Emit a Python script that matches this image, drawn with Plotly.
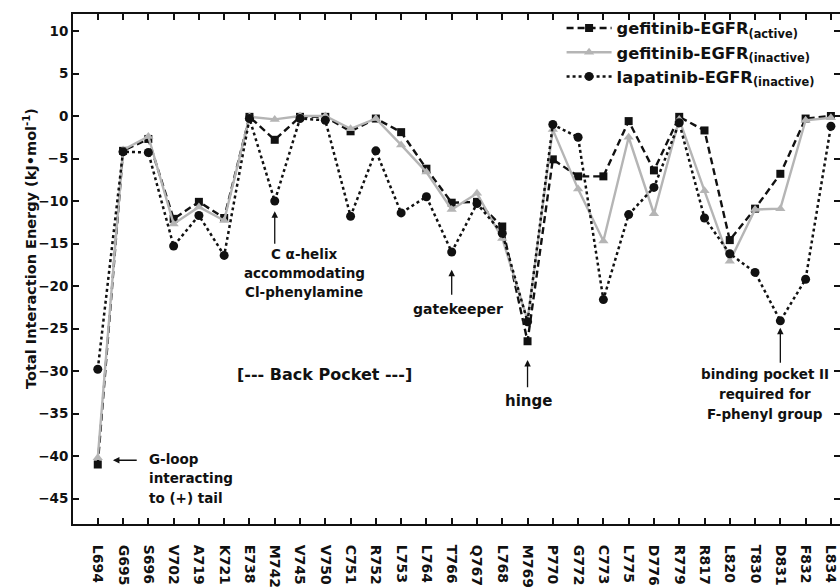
import plotly.graph_objects as go

# Residues along the binding site
residues = ["L694", "G695", "S696", "V702", "A719", "K721", "E738", "M742", "V745", "V750",
            "C751", "R752", "L753", "L764", "T766", "Q767", "L768", "M769", "P770", "G772",
            "C773", "L775", "D776", "R779", "R817", "L820", "T830", "D831", "F832", "L834"]

# Total interaction energy per residue (kJ/mol)
gef_active = [-41.0, -4.1, -2.7, -12.1, -10.1, -12.0, -0.1, -2.8, -0.1, -0.1,
              -1.8, -0.3, -1.9, -6.2, -10.2, -10.1, -13.0, -26.5, -5.1, -7.1,
              -7.1, -0.6, -6.4, -0.1, -1.7, -14.6, -10.9, -6.8, -0.3, 0.0]
gef_inactive = [-40.2, -4.0, -2.4, -12.7, -10.7, -12.3, -0.1, -0.4, 0.0, 0.0,
                -1.5, -0.3, -3.4, -6.6, -11.0, -9.1, -14.4, -24.0, -1.6, -8.6,
                -14.7, -2.5, -11.5, -0.4, -8.8, -17.1, -11.0, -10.9, -0.5, -0.2]
lap_inactive = [-29.8, -4.2, -4.3, -15.3, -11.7, -16.4, -0.3, -10.0, -0.3, -0.5,
                -11.8, -4.1, -11.4, -9.5, -16.0, -10.3, -13.8, -24.2, -1.0, -2.5,
                -21.6, -11.6, -8.4, -0.8, -12.0, -16.2, -18.4, -24.1, -19.2, -1.2]

y_ticks = [10, 5, 0, -5, -10, -15, -20, -25, -30, -35, -40, -45]

FONT = "DejaVu Sans"
INK = "#111111"

fig = go.Figure()
fig.add_trace(go.Scatter(
    x=residues, y=gef_active, mode="lines+markers",
    name="gefitinib-EGFR<sub>(active)</sub>",
    line=dict(color="#111111", width=2.4, dash="7px,4px"),
    marker=dict(symbol="square", size=8, color="#111111"),
))
fig.add_trace(go.Scatter(
    x=residues, y=gef_inactive, mode="lines+markers",
    name="gefitinib-EGFR<sub>(inactive)</sub>",
    line=dict(color="#b5b5b5", width=2.4),
    marker=dict(symbol="triangle-up", size=9, color="#b5b5b5"),
))
fig.add_trace(go.Scatter(
    x=residues, y=lap_inactive, mode="lines+markers",
    name="lapatinib-EGFR<sub>(inactive)</sub>",
    line=dict(color="#111111", width=2.5, dash="3px,3px"),
    marker=dict(symbol="circle", size=9, color="#111111"),
))
# empty trace that puts the mirrored tick axis on the right-hand side
fig.add_trace(go.Scatter(x=[], y=[], yaxis="y2", showlegend=False, hoverinfo="skip"))

bold = dict(family=FONT, color=INK, weight="bold")

annotations = []


def label(text, x, y, size, xanchor="center"):
    annotations.append(dict(x=x, y=y, xref="x", yref="y", text=text, showarrow=False,
                            xanchor=xanchor, yanchor="middle",
                            font=dict(size=size, **bold)))


def arrow(x, y_head, x_tail, y_tail):
    annotations.append(dict(x=x, y=y_head, ax=x_tail, ay=y_tail, xref="x", yref="y",
                            axref="x", ayref="y", text="", showarrow=True,
                            arrowhead=2, arrowsize=1, arrowwidth=1.3, arrowcolor=INK))


# G-loop
arrow(0.6, -40.5, 1.6, -40.5)
label("G-loop", 1.94, -40.4, 13.5, "left")
label("interacting", 1.94, -42.6, 13.5, "left")
label("to (+) tail", 1.94, -44.9, 13.5, "left")

# C alpha-helix
arrow(7, -11.2, 7, -15.2)
label("C α-helix", 8.16, -16.2, 13.5)
label("accommodating", 8.16, -18.5, 13.5)
label("Cl-phenylamine", 8.16, -20.7, 13.5)

# gatekeeper
arrow(14, -18.1, 14, -21.2)
label("gatekeeper", 14.25, -22.75, 14)

# hinge
arrow(17, -28.7, 17, -32.1)
label("hinge", 17.03, -33.5, 15)

# binding pocket II
arrow(27, -24.9, 27, -29.2)
label("binding pocket II", 26.4, -30.3, 13.5)
label("required for", 26.4, -32.65, 13.5)
label("F-phenyl group", 26.4, -35.0, 13.5)

# back pocket region
label("[--- Back Pocket ---]", 8.95, -30.45, 16)

# y-axis title
annotations.append(dict(x=-0.057, y=0.54, xref="paper", yref="paper",
                        text="Total Interaction Energy (kJ•mol<sup>-1</sup>)",
                        showarrow=False, textangle=-90, xanchor="center", yanchor="middle",
                        font=dict(size=14.5, **bold)))

fig.update_layout(
    width=840, height=588,
    margin=dict(l=73, r=0, t=14, b=60),
    paper_bgcolor="white", plot_bgcolor="white",
    showlegend=True,
    legend=dict(x=0.637, y=1.006, xanchor="left", yanchor="top",
                bgcolor="rgba(0,0,0,0)", font=dict(size=16.3, **bold),
                itemwidth=45, tracegroupgap=0),
    xaxis=dict(type="category", range=[-0.98, 29.36], showline=True, linecolor=INK,
               linewidth=2, mirror="ticks", ticks="inside", ticklen=6, tickwidth=1.5,
               tickcolor=INK, tickangle=90, ticklabelstandoff=16,
               tickfont=dict(size=14, **bold), showgrid=False, zeroline=False),
    yaxis=dict(range=[-48, 12], tickvals=y_ticks, showline=True, linecolor=INK,
               linewidth=2, ticks="inside", ticklen=6, tickwidth=1.5, tickcolor=INK,
               tickfont=dict(size=13.5, **bold), showgrid=False, zeroline=False),
    yaxis2=dict(range=[-48, 12], tickvals=y_ticks, overlaying="y", side="right",
                anchor="x", showline=False, ticks="inside", ticklen=6, tickwidth=1.5,
                tickcolor=INK, showticklabels=False, showgrid=False, zeroline=False),
    annotations=annotations,
)

fig.write_html("out.html")
